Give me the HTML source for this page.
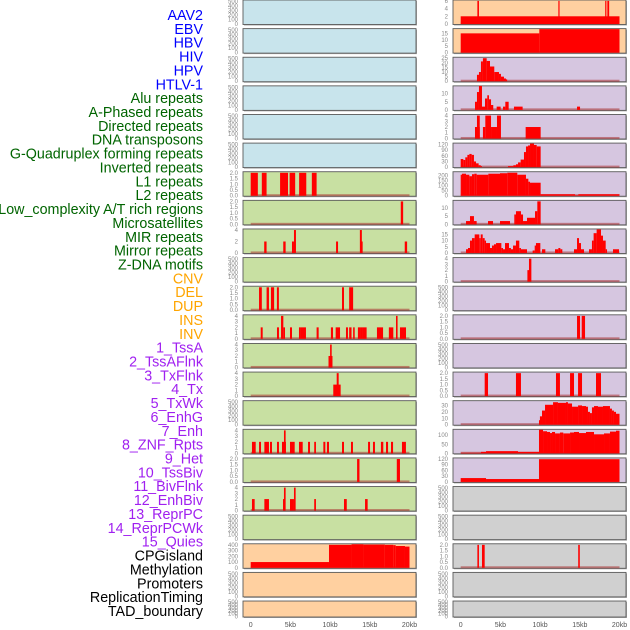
<!DOCTYPE html>
<html><head><meta charset="utf-8">
<style>
html,body{margin:0;padding:0;background:#fff;width:630px;height:630px;overflow:hidden}
svg{display:block}
text{font-family:"Liberation Sans",sans-serif}
</style></head>
<body>
<svg id="chart" width="630" height="630" viewBox="0 0 630 630" xmlns="http://www.w3.org/2000/svg"></svg>
<script>
// ---------- data ----------
const labelNames = ["AAV2","EBV","HBV","HIV","HPV","HTLV-1","Alu repeats","A-Phased repeats","Directed repeats","DNA transposons","G-Quadruplex forming repeats","Inverted repeats","L1 repeats","L2 repeats","Low_complexity A/T rich regions","Microsatellites","MIR repeats","Mirror repeats","Z-DNA motifs","CNV","DEL","DUP","INS","INV","1_TssA","2_TssAFlnk","3_TxFlnk","4_Tx","5_TxWk","6_EnhG","7_Enh","8_ZNF_Rpts","9_Het","10_TssBiv","11_BivFlnk","12_EnhBiv","13_ReprPC","14_ReprPCWk","15_Quies","CPGisland","Methylation","Promoters","ReplicationTiming","TAD_boundary"];
const labelGroups = [0,0,0,0,0,0,1,1,1,1,1,1,1,1,1,1,1,1,1,2,2,2,2,2,3,3,3,3,3,3,3,3,3,3,3,3,3,3,3,4,4,4,4,4];
const groupColors = ["#0000ff","#006400","#ffa500","#a020f0","#000000"];
const xTickLabels = ["0","5kb","10kb","15kb","20kb"];
const xTickValues = [0,5,10,15,20];

const ticksEmpty = [0,100,200,300,400,500];
const ticks2 = [0,0.5,1,1.5,2];
const ticks4 = [0,1,2,3,4];

const barsAlu = [[0,0.9,2],[1.4,2.0,2],[3.7,4.7,2],[4.9,5.6,2],[6.1,7.0,2],[7.7,8.3,2]];
const barsAPhased = [[18.9,19.2,2]];
const barsDirected = [[1.7,2.0,2],[4.1,4.4,2],[5.2,5.45,2],[5.45,5.7,4],[10.75,11.0,2],[13.75,14.0,4],[13.9,14.1,2],[19.4,19.7,2]];
const barsGQuad = [[1.05,1.4,2],[2.0,2.3,2],[2.55,2.95,2],[3.3,3.55,2],[11.5,11.75,2],[12.4,12.9,2]];
const barsInverted = [[1.26,1.51,2],[3.31,3.56,2],[3.82,4.11,4],[4.11,4.32,2],[4.95,5.2,2],[6.08,6.33,2],[6.33,6.96,2],[8.3,8.56,2],[10.1,10.37,2],[10.7,11.25,2],[12.0,12.25,2],[12.4,12.7,2],[12.9,13.1,2],[13.5,13.77,2],[13.77,14.14,2],[14.14,14.6,2],[15.9,16.67,2],[17.4,17.96,2],[18.3,18.5,4],[18.8,19.56,2]];
const barsL1 = [[9.8,10.3,2],[10.0,10.2,4]];
const barsL2 = [[10.4,11.33,2],[10.83,11.08,4]];
const barsMicro = [[0.16,0.63,2],[1.05,1.3,2],[1.72,2.3,2],[2.43,2.68,2],[3.31,3.56,2],[3.94,4.44,2],[4.19,4.4,4],[4.95,5.54,2],[6.08,6.55,2],[7.22,7.47,2],[8.0,8.22,2],[9.15,9.4,2],[9.6,9.86,2],[11.5,11.75,2],[12.63,12.88,2],[14.78,15.03,2],[15.4,15.65,2],[16.4,16.7,2],[17.04,17.3,2],[17.67,17.93,2],[19.05,19.55,2]];
const barsMIR = [[13.4,13.7,2],[18.4,18.8,2]];
const barsMirror = [[0.16,0.5,2],[1.72,2.3,2],[4.07,4.32,2],[4.19,4.4,4],[4.95,5.45,2],[5.45,5.66,4],[8.0,8.22,2],[11.75,12.1,2],[14.4,14.73,2]];
const barsCNV = [[0,9.86,100],[9.86,12.7,400],[12.7,14.2,410],[14.2,16.9,405],[16.9,17.96,400],[17.96,18.26,395],[18.26,19.43,380],[19.43,20,370]];

const barsINS = [[0,20,2],[2.1,2.3,6],[12.3,12.45,6],[18.2,18.35,6],[18.47,18.7,6]];
const barsINV = [[0,9.9,15],[9.9,20,18.3]];
const barsTssA = [[2.05,2.3,7],[2.3,2.55,10],[2.55,2.8,21.5],[2.8,3.27,25],[3.27,3.69,22],[3.69,4.23,16],[4.23,4.82,10],[4.82,5.07,8],[5.07,5.45,5],[5.45,5.7,3],[5.7,5.83,2]];
const barsTssAFlnk = [[1.8,2.05,5],[2.05,2.3,11],[2.3,2.68,14.8],[2.68,3.06,2],[3.06,3.35,7],[3.35,3.56,9],[3.56,3.82,6.5],[3.82,4.1,3],[4.53,5.03,2],[5.33,5.62,2],[5.62,6.04,5],[6.71,7.8,2],[14.65,15.03,2]];
const barsTxFlnk = [[1.8,2.4,2],[2.05,2.4,4],[2.8,3.1,2],[3.1,3.82,4],[3.82,4.57,2],[4.57,5.07,4],[8.18,10.07,2]];
const barsTx = [[0,0.33,43],[0.33,0.58,38],[0.58,0.84,52],[0.84,1.09,65],[1.09,1.38,70],[1.38,1.67,65],[1.67,1.93,30],[1.93,2.26,20],[2.26,2.52,10],[2.52,2.68,5],[5.96,6.63,5],[6.63,6.96,10],[6.96,7.22,15],[7.22,7.55,25],[7.55,7.97,40],[7.97,8.22,80],[8.22,8.48,110],[8.48,8.73,115],[8.73,9.23,125],[9.23,9.57,118],[9.57,10.07,110]];
const barsTxWk = [[0,0.16,210],[0.16,0.67,220],[0.67,1.09,210],[1.09,1.42,195],[1.42,1.72,215],[1.72,2.01,220],[2.01,3.48,210],[3.48,4.95,220],[4.95,5.87,225],[5.87,7.13,230],[7.13,8.22,210],[8.22,8.52,170],[8.52,8.73,140],[8.73,10.07,130],[10.07,14.4,15],[14.4,14.81,5],[14.81,20,15]];
const barsEnhG = [[0.67,1.17,2],[1.17,1.67,5],[1.67,2.01,2],[3.44,4.07,2],[4.95,6.21,2],[6.75,6.96,6],[6.96,7.59,8],[7.59,7.85,6],[7.85,8.35,2],[8.35,9.36,4],[9.36,9.65,8],[9.65,10.07,14]];
const barsEnh = [[0.67,0.92,3],[0.92,1.17,4],[1.17,1.42,10],[1.42,1.76,12],[1.76,2.35,15],[2.35,2.52,12],[2.52,2.77,15],[2.77,3.02,12],[3.02,3.19,10],[3.19,3.69,8],[3.69,3.94,4],[3.94,4.19,6],[4.19,4.45,7],[4.45,5.12,8],[5.12,5.33,4],[5.33,5.58,3],[5.58,6.08,8],[6.08,6.33,4],[6.33,6.59,3],[6.59,6.96,6],[6.96,7.38,10],[7.38,7.59,4],[7.59,8.35,3],[9.06,9.32,2],[9.32,9.48,6],[9.48,10.03,8],[10.24,10.66,3],[11.88,12.3,3],[12.3,12.55,4],[12.55,12.8,3],[14.27,14.65,3],[14.65,14.9,12],[14.9,15.15,8],[15.15,15.53,3],[16.16,16.53,3],[16.53,16.74,10],[16.74,17.12,16],[17.12,17.67,19],[17.67,17.92,14],[17.92,18.26,10],[18.26,18.43,3],[19.18,19.94,3]];
const barsZNF = [[8.4,8.65,2],[8.6,8.9,4]];
const barsTssBiv = [[14.65,15.03,2],[15.24,15.66,2]];
const barsEnhBiv = [[3.02,3.44,2],[6.96,7.59,2],[12.0,12.5,2],[13.77,14.27,2],[14.78,15.28,2],[17.04,17.67,2]];
const barsReprPC = [[9.86,9.98,7],[9.98,10.24,13],[10.24,10.62,22],[10.62,11.63,31],[11.63,12.25,35],[12.25,13.26,34],[13.26,13.51,35],[13.51,14.02,33],[14.02,14.78,28],[14.78,15.28,30],[15.28,15.78,29],[15.78,16.03,28],[16.03,16.28,20],[16.28,16.53,18],[16.53,16.79,27],[16.79,17.29,29],[17.29,17.92,28],[17.92,18.8,29],[18.8,19.05,25],[19.05,19.3,22],[19.3,19.56,20],[19.56,20,17]];
const barsReprPCWk = [[0,2.55,3],[2.55,3.19,8],[3.19,7.22,12],[7.22,9.86,8],[9.86,10.37,130],[10.37,10.87,122],[10.87,11.25,118],[11.25,11.5,112],[11.5,11.88,118],[11.88,12.5,110],[12.5,12.92,115],[12.92,13.77,110],[13.77,14.27,115],[14.27,14.9,118],[14.9,15.78,112],[15.78,16.79,118],[16.79,18.05,105],[18.05,18.8,110],[18.8,19.56,120],[19.56,20,125]];
const barsQuies = [[0,3.19,20],[3.19,9.86,15],[9.86,20,118]];
const barsPromoters = [[2.1,2.3,2],[2.68,3.02,2],[14.8,15.0,2]];

const BLUE="#c8e4ec",GREEN="#c8e0a2",ORANGE="#ffd0a0",PURPLE="#d6c6e0",GREY="#d0d0d0";
const panels = [
 [0,0,BLUE,520,ticksEmpty,0,null,"aav2"],[0,1,BLUE,520,ticksEmpty,0,null,"ebv"],[0,2,BLUE,520,ticksEmpty,0,null,"hbv"],
 [0,3,BLUE,520,ticksEmpty,0,null,"hiv"],[0,4,BLUE,520,ticksEmpty,0,null,"hpv"],[0,5,BLUE,520,ticksEmpty,0,null,"htlv-1"],
 [0,6,GREEN,2.05,ticks2,1,barsAlu,"alu-repeats"],[0,7,GREEN,2.05,ticks2,1,barsAPhased,"a-phased-repeats"],
 [0,8,GREEN,4.1,[0,2,4],0,barsDirected,"directed-repeats"],[0,9,GREEN,520,ticksEmpty,0,null,"dna-transposons"],
 [0,10,GREEN,2.05,ticks2,1,barsGQuad,"g-quadruplex"],[0,11,GREEN,4.1,ticks4,0,barsInverted,"inverted-repeats"],
 [0,12,GREEN,4.1,ticks4,0,barsL1,"l1-repeats"],[0,13,GREEN,4.1,ticks4,0,barsL2,"l2-repeats"],
 [0,14,GREEN,520,ticksEmpty,0,null,"low-complexity"],[0,15,GREEN,4.1,ticks4,0,barsMicro,"microsatellites"],
 [0,16,GREEN,2.05,ticks2,1,barsMIR,"mir-repeats"],[0,17,GREEN,4.1,ticks4,0,barsMirror,"mirror-repeats"],
 [0,18,GREEN,520,ticksEmpty,0,null,"z-dna-motifs"],[0,19,ORANGE,410,[0,100,200,300,400],0,barsCNV,"cnv"],
 [0,20,ORANGE,520,ticksEmpty,0,null,"del"],[0,21,ORANGE,520,ticksEmpty,0,null,"dup"],
 [1,0,ORANGE,6.1,[0,2,4,6],0,barsINS,"ins"],[1,1,ORANGE,18.3,[0,5,10,15],0,barsINV,"inv"],
 [1,2,PURPLE,25.5,[0,5,10,15,20,25],0,barsTssA,"tssa"],[1,3,PURPLE,14.5,[0,5,10],0,barsTssAFlnk,"tssaflnk"],
 [1,4,PURPLE,4.1,ticks4,0,barsTxFlnk,"txflnk"],[1,5,PURPLE,125,[0,30,60,90,120],0,barsTx,"tx"],
 [1,6,PURPLE,235,[0,50,100,150,200],0,barsTxWk,"txwk"],[1,7,PURPLE,14.3,[0,5,10],0,barsEnhG,"enhg"],
 [1,8,PURPLE,19,[0,5,10,15],0,barsEnh,"enh"],[1,9,PURPLE,4.1,ticks4,0,barsZNF,"znf-rpts"],
 [1,10,PURPLE,520,ticksEmpty,0,null,"het"],[1,11,PURPLE,2.05,ticks2,1,barsTssBiv,"tssbiv"],
 [1,12,PURPLE,520,ticksEmpty,0,null,"bivflnk"],[1,13,PURPLE,2.05,ticks2,1,barsEnhBiv,"enhbiv"],
 [1,14,PURPLE,36.6,[0,10,20,30],0,barsReprPC,"reprpc"],[1,15,PURPLE,130,[0,50,100],0,barsReprPCWk,"reprpcwk"],
 [1,16,PURPLE,122,[0,30,60,90,120],0,barsQuies,"quies"],[1,17,GREY,520,ticksEmpty,0,null,"cpgisland"],
 [1,18,GREY,520,ticksEmpty,0,null,"methylation"],[1,19,GREY,2.05,ticks2,1,barsPromoters,"promoters"],
 [1,20,GREY,520,ticksEmpty,0,null,"replication-timing"],[1,21,GREY,520,ticksEmpty,0,null,"tad-boundary"]
];

// ---------- drawing ----------
const NS="http://www.w3.org/2000/svg";
const svg=document.getElementById("chart");
function mk(tag,attrs,parent){const e=document.createElementNS(NS,tag);for(const k in attrs)e.setAttribute(k,attrs[k]);(parent||svg).appendChild(e);return e;}
const colLeft=[243,453], colW=173;
const x0=[250.7,460.7], kbPx=7.94;
function xScale(col,kb){return x0[col]+kb*kbPx;}
function panelTop(row){return row*28.62;}
function panelH(row){return row===21?16:24.5;}
function yScale(row,max,v){const b=panelTop(row)+panelH(row)-0.5;const t=panelTop(row)+0.5;return b-(v/max)*(b-t);}

labelNames.forEach((n,i)=>{
  const t=mk("text",{x:203,y:15+i*13.86+5,"text-anchor":"end","font-size":"14.3",fill:groupColors[labelGroups[i]]});
  t.textContent=n;
  
  
});

panels.forEach(p=>{
  const [col,row,bg,max,ticks,dec,bars,name]=p;
  const g=mk("g",{});
  
  
  const top=panelTop(row),h=panelH(row);
  mk("rect",{x:colLeft[col]+1,y:top+1,width:colW,height:h,fill:"#aaa"},g);
  const bgR=mk("rect",{x:colLeft[col],y:top,width:colW,height:h,fill:bg,stroke:"#5a5a5a","stroke-width":"0.9"},g);
  
  
  if(bars){
    const bl=mk("rect",{x:xScale(col,0),y:yScale(row,max,0)-1.5,width:xScale(col,20)-xScale(col,0),height:2,fill:"rgba(170,50,50,0.55)"},g);
    
    
    bars.forEach(b=>{
      const xa=xScale(col,b[0]),xb=xScale(col,b[1]);
      const yt=yScale(row,max,b[2]),yb=yScale(row,max,0);
      const r=mk("rect",{x:xa,y:yt,width:Math.max(1.2,xb-xa),height:yb-yt,fill:"#ff0000"},g);
      
      
    });
  }
  ticks.forEach(tv=>{
    const t=mk("text",{x:colLeft[col]-5,y:yScale(row,max,tv)+2,"text-anchor":"end","font-size":"6",fill:"#888"},g);
    t.textContent=dec?tv.toFixed(dec):String(tv);
    
    
  });
});

[0,1].forEach(col=>{
  xTickValues.forEach((v,i)=>{
    const t=mk("text",{x:xScale(col,v),y:627,"text-anchor":"middle","font-size":"7",fill:"#555"});
    t.textContent=xTickLabels[i];
    
    
  });
});
</script>
</body></html>
